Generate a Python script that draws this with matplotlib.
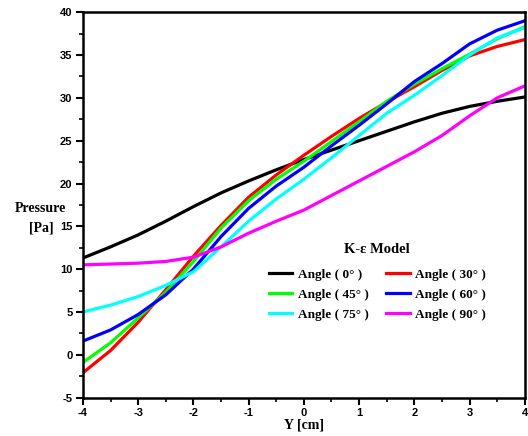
import numpy as np
import matplotlib.pyplot as plt
from matplotlib.ticker import MultipleLocator

plt.rcParams['axes.unicode_minus'] = False

# Y position [cm]
y_cm = [-4, -3.5, -3, -2.5, -2, -1.5, -1, -0.5, 0, 0.5, 1, 1.5, 2, 2.5, 3, 3.5, 4]

# pressure [Pa] for each angle
p_0 = [11.3, 12.6, 14.0, 15.6, 17.3, 18.9, 20.3, 21.6, 22.8, 23.9, 25.0, 26.1, 27.2, 28.2, 29.0, 29.6, 30.1]
p_30 = [-2.1, 0.5, 3.8, 7.6, 11.5, 15.1, 18.4, 21.0, 23.3, 25.5, 27.6, 29.5, 31.3, 33.2, 34.9, 36.0, 36.8]
p_45 = [-0.9, 1.4, 4.3, 7.3, 10.9, 14.8, 18.0, 20.5, 22.6, 24.9, 27.2, 29.6, 31.6, 33.4, 35.1, 36.9, 38.3]
p_60 = [1.6, 2.9, 4.7, 7.0, 10.0, 13.8, 17.1, 19.7, 21.9, 24.4, 26.8, 29.3, 31.9, 34.0, 36.3, 37.9, 39.0]
p_75 = [5.0, 5.8, 6.8, 8.1, 9.7, 12.6, 15.6, 18.2, 20.5, 23.0, 25.6, 28.2, 30.3, 32.6, 35.0, 37.0, 38.2]
p_90 = [10.5, 10.6, 10.7, 10.9, 11.4, 12.6, 14.2, 15.6, 16.9, 18.6, 20.3, 22.0, 23.7, 25.6, 27.9, 30.0, 31.4]

labels = ["Angle ( 0° )", "Angle ( 30° )", "Angle ( 45° )",
          "Angle ( 60° )", "Angle ( 75° )", "Angle ( 90° )"]
colors = ["black", "red", "#00ff00", "blue", "cyan", "magenta"]
series = [p_0, p_30, p_45, p_60, p_75, p_90]

fig = plt.figure(figsize=(5.28, 4.36), dpi=100)
ax = fig.add_axes([0.157, 0.088, 0.837, 0.884])

lines = []
for p, c, lab in zip(series, colors, labels):
    ln, = ax.plot(y_cm, p, color=c, lw=2.3, label=lab)
    lines.append(ln)

ax.set_xlim(-4, 4)
ax.set_ylim(-5, 40)
ax.xaxis.set_major_locator(MultipleLocator(1))
ax.xaxis.set_minor_locator(MultipleLocator(0.5))
ax.yaxis.set_major_locator(MultipleLocator(5))
ax.yaxis.set_minor_locator(MultipleLocator(2.5))
ax.tick_params(which='major', direction='out', length=5, width=1.5, pad=2.5)
ax.tick_params(which='minor', direction='out', length=3, width=1.2)
for lbl in ax.get_xticklabels() + ax.get_yticklabels():
    lbl.set_fontfamily('Liberation Sans')
    lbl.set_fontweight('bold')
    lbl.set_fontsize(8)
for s in ax.spines.values():
    s.set_linewidth(1.8)

ax.set_xlabel("Y [cm]", family='Liberation Serif', fontweight='bold', fontsize=10, labelpad=0)
# y label as two separate lines, placed left of the tick labels
fig.text(0.076, 1 - 208 / 436, "Pressure", family='Liberation Serif', fontweight='bold',
         fontsize=10, ha='center', va='center')
fig.text(0.078, 1 - 228 / 436, "[Pa]", family='Liberation Serif', fontweight='bold',
         fontsize=10, ha='center', va='center')

# row-wise order like the original (legend fills columns first)
order = [0, 2, 4, 1, 3, 5]
leg = ax.legend([lines[i] for i in order], [labels[i] for i in order],
                ncol=2, loc='center', bbox_to_anchor=(0.666, 0.300), frameon=False,
                title="K-ε Model", handlelength=1.8, handletextpad=0.4,
                columnspacing=1.3, labelspacing=0.6,
                prop={'family': 'Liberation Serif', 'weight': 'bold', 'size': 9.5})
leg.get_title().set_fontfamily('Liberation Serif')
leg.get_title().set_fontweight('bold')
leg.get_title().set_fontsize(10.5)
leg._legend_box.sep = 9  # a bit more room under the title

fig.savefig("out.png", dpi=100)
